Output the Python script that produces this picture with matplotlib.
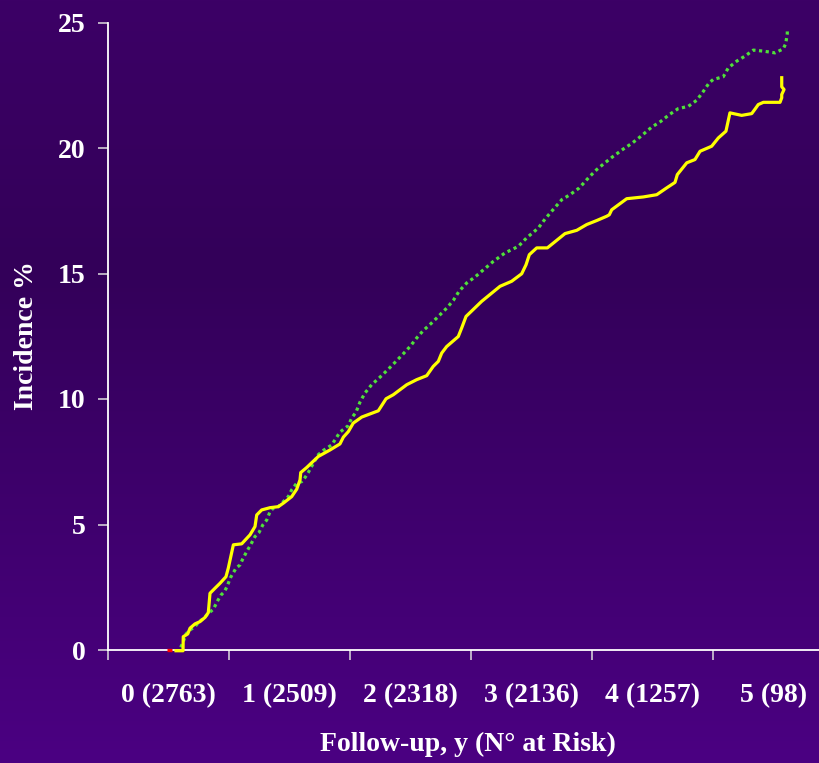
import numpy as np
import matplotlib
matplotlib.use("Agg")
import matplotlib.pyplot as plt
from matplotlib.colors import LinearSegmentedColormap

# ---- data (years, incidence %) ----
tick_labels = ["0 (2763)", "1 (2509)", "2 (2318)", "3 (2136)", "4 (1257)", "5 (98)"]
tick_pos = [0, 1, 2, 3, 4, 5]
y_ticks = [0, 5, 10, 15, 20, 25]

solid_x = [0.062, 0.120, 0.122, 0.159, 0.178, 0.219, 0.260, 0.302, 0.329, 0.343, 0.384, 0.426,
           0.475, 0.494, 0.536, 0.605, 0.674, 0.715, 0.729, 0.770, 0.839, 0.907, 0.949, 1.018,
           1.060, 1.087, 1.093, 1.142, 1.238, 1.335, 1.417, 1.445, 1.486, 1.527, 1.597, 1.734,
           1.798, 1.858, 1.969, 2.051, 2.134, 2.188, 2.230, 2.258, 2.299, 2.395, 2.423, 2.459,
           2.588, 2.740, 2.836, 2.919, 2.955, 2.982, 3.043, 3.131, 3.277, 3.374, 3.456, 3.539,
           3.621, 3.643, 3.663, 3.787, 3.924, 4.035, 4.117, 4.186, 4.205, 4.283, 4.351, 4.393,
           4.489, 4.544, 4.607, 4.640, 4.737, 4.820, 4.855, 4.874, 4.916, 5.054, 5.068, 5.068,
           5.087, 5.068, 5.068]
solid_y = [-0.03, -0.03, 0.53, 0.64, 0.87, 1.04, 1.13, 1.30, 1.49, 2.26, 2.46, 2.66,
           2.92, 3.26, 4.19, 4.23, 4.59, 4.92, 5.38, 5.58, 5.67, 5.71, 5.85, 6.11,
           6.41, 6.78, 7.07, 7.27, 7.71, 7.97, 8.21, 8.48, 8.70, 9.04, 9.28, 9.53,
           10.01, 10.17, 10.57, 10.77, 10.93, 11.30, 11.50, 11.83, 12.09, 12.49, 12.83, 13.29,
           13.89, 14.49, 14.69, 14.99, 15.35, 15.75, 16.02, 16.02, 16.59, 16.72, 16.95, 17.11,
           17.28, 17.34, 17.54, 17.98, 18.05, 18.14, 18.41, 18.63, 18.94, 19.41, 19.54, 19.87,
           20.07, 20.40, 20.67, 21.40, 21.30, 21.37, 21.60, 21.73, 21.82, 21.82, 22.00, 22.13,
           22.33, 22.44, 22.80]

dotted_x = [0.101, 0.122, 0.145, 0.178, 0.219, 0.246, 0.288, 0.337, 0.370, 0.407, 0.434, 0.461,
            0.481, 0.514, 0.558, 0.591, 0.613, 0.646, 0.674, 0.715, 0.748, 0.779, 0.812, 0.839,
            0.866, 0.907, 0.949, 0.990, 1.018, 1.060, 1.101, 1.128, 1.155, 1.197, 1.238, 1.279,
            1.349, 1.417, 1.486, 1.514, 1.550, 1.583, 1.624, 1.679, 1.748, 1.817, 1.872, 1.940,
            1.996, 2.051, 2.106, 2.175, 2.230, 2.299, 2.354, 2.401, 2.464, 2.533, 2.684, 2.781,
            2.891, 2.960, 3.056, 3.112, 3.167, 3.250, 3.318, 3.395, 3.478, 3.539, 3.607, 3.676,
            3.759, 3.828, 3.897, 3.993, 4.068, 4.139, 4.213, 4.296, 4.365, 4.415, 4.469, 4.502,
            4.585, 4.626, 4.696, 4.764, 4.833, 4.916, 5.012, 5.081, 5.101, 5.114, 5.114]
dotted_y = [0.11, 0.33, 0.64, 0.80, 0.93, 1.09, 1.26, 1.49, 1.62, 1.97, 2.19, 2.32,
            2.50, 2.90, 3.26, 3.39, 3.62, 3.92, 4.15, 4.52, 4.68, 4.98, 5.18, 5.51,
            5.65, 5.71, 5.91, 6.11, 6.38, 6.65, 6.71, 6.87, 7.07, 7.44, 7.78, 7.95,
            8.17, 8.68, 8.94, 9.24, 9.48, 9.88, 10.24, 10.57, 10.87, 11.19, 11.46, 11.80,
            12.09, 12.43, 12.73, 13.03, 13.29, 13.62, 13.93, 14.29, 14.62, 14.86, 15.48, 15.82,
            16.08, 16.42, 16.81, 17.17, 17.48, 17.94, 18.14, 18.41, 18.85, 19.14, 19.41, 19.67,
            19.96, 20.18, 20.44, 20.83, 21.06, 21.33, 21.57, 21.66, 21.90, 22.22, 22.60, 22.73,
            22.84, 23.19, 23.46, 23.66, 23.90, 23.86, 23.79, 23.95, 24.16, 24.56, 24.76]

red_x = [-0.012, 0.029]
red_y = [0.0, 0.0]

# ---- figure ----
W, H, DPI = 820, 763, 100
fig = plt.figure(figsize=(W / DPI, H / DPI), dpi=DPI)

# background gradient
bg = fig.add_axes([0, 0, 1, 1], zorder=-10)
cmap = LinearSegmentedColormap.from_list(
    "bg", [(0.0, "#3C0066"), (0.35, "#330059"), (1.0, "#4B0082")])
grad = np.linspace(0, 1, 256).reshape(-1, 1)
bg.imshow(grad, aspect="auto", cmap=cmap, extent=[0, 1, 0, 1], origin="upper")
bg.set_axis_off()

left = 108 / W
bottom = (H - 650) / H
top = (H - 22.5) / H
ax = fig.add_axes([left, bottom, 1.0 - left, top - bottom])
ax.patch.set_alpha(0)

ax.plot(dotted_x, dotted_y, color="#4FE03A", lw=2.3, linestyle=(0, (1, 1.1)),
        dash_capstyle="butt", clip_on=False, zorder=5)
ax.plot(red_x, red_y, color="#FF0000", lw=2.4, solid_capstyle="butt", clip_on=False, zorder=6)
ax.plot(solid_x, solid_y, color="#FFFF00", lw=2.3, solid_joinstyle="round",
        clip_on=False, zorder=7)

ax.set_xlim(-0.5, (W - 168.5) / 121)
ax.set_ylim(0, 25)

for s in ["top", "right"]:
    ax.spines[s].set_visible(False)
for s in ["left", "bottom"]:
    ax.spines[s].set_color("white")
    ax.spines[s].set_linewidth(1.3)
    ax.spines[s].set_zorder(2)

serif = dict(family="Liberation Serif", weight="bold", color="white", size=20)

ax.set_yticks(y_ticks)
ax.set_yticklabels([str(v) for v in y_ticks], **serif)
ax.tick_params(axis="y", direction="out", length=7.2, width=1.1, color="#DDDDDD", pad=9)

ax.set_xticks(tick_pos)
ax.set_xticklabels(tick_labels, **serif)
ax.set_xticks(np.arange(-0.5, 5.0, 1.0), minor=True)
ax.tick_params(axis="x", which="major", length=0, pad=24)
ax.tick_params(axis="x", which="minor", direction="out", length=7.2, width=1.1, color="#DDDDDD")

fig.text(27 / W, (H - 336) / H, "Incidence %", rotation=90, ha="center", va="center", **serif)
fig.text(468 / W, (H - 744) / H, "Follow-up, y (N° at Risk)", ha="center", va="center", **serif)

fig.savefig("out.png", dpi=DPI)
